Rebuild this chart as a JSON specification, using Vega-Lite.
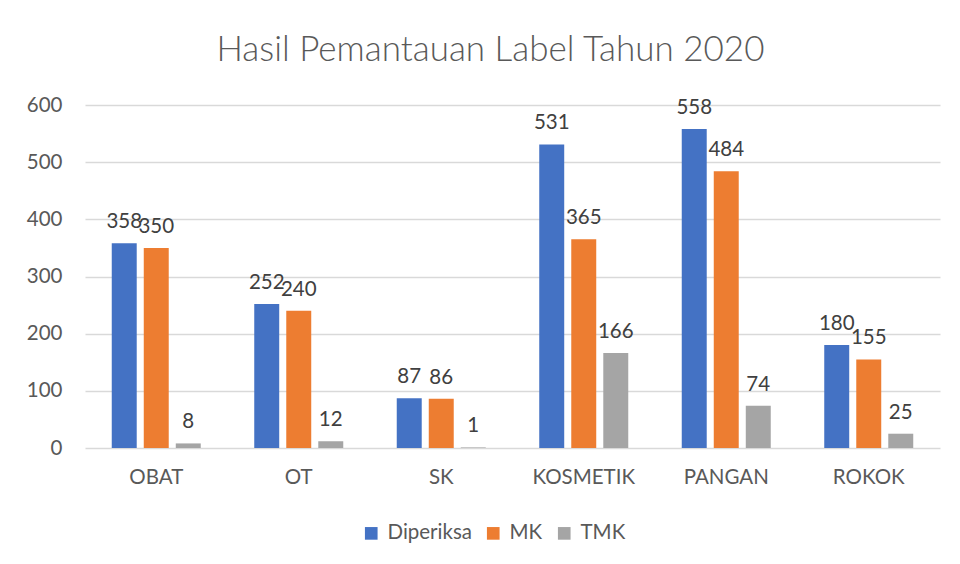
{
  "$schema": "https://vega.github.io/schema/vega-lite/v6.json",
  "width": 855,
  "height": 343,
  "autosize": {"type": "none"},
  "padding": {"left": 85, "top": 105, "right": 20, "bottom": 116},
  "background": "white",
  "title": {
    "text": "Hasil Pemantauan Label Tahun 2020",
    "font": "Lato",
    "fontWeight": 300,
    "fontSize": 35,
    "color": "#595959",
    "anchor": "middle",
    "dx": -22,
    "offset": 27
  },
  "data": {
    "values": [
      {"kategori": "OBAT", "seri": "Diperiksa", "nilai": 358},
      {"kategori": "OBAT", "seri": "MK", "nilai": 350},
      {"kategori": "OBAT", "seri": "TMK", "nilai": 8},
      {"kategori": "OT", "seri": "Diperiksa", "nilai": 252},
      {"kategori": "OT", "seri": "MK", "nilai": 240},
      {"kategori": "OT", "seri": "TMK", "nilai": 12},
      {"kategori": "SK", "seri": "Diperiksa", "nilai": 87},
      {"kategori": "SK", "seri": "MK", "nilai": 86},
      {"kategori": "SK", "seri": "TMK", "nilai": 1},
      {"kategori": "KOSMETIK", "seri": "Diperiksa", "nilai": 531},
      {"kategori": "KOSMETIK", "seri": "MK", "nilai": 365},
      {"kategori": "KOSMETIK", "seri": "TMK", "nilai": 166},
      {"kategori": "PANGAN", "seri": "Diperiksa", "nilai": 558},
      {"kategori": "PANGAN", "seri": "MK", "nilai": 484},
      {"kategori": "PANGAN", "seri": "TMK", "nilai": 74},
      {"kategori": "ROKOK", "seri": "Diperiksa", "nilai": 180},
      {"kategori": "ROKOK", "seri": "MK", "nilai": 155},
      {"kategori": "ROKOK", "seri": "TMK", "nilai": 25}
    ]
  },
  "encoding": {
    "x": {
      "field": "kategori",
      "type": "nominal",
      "sort": null,
      "scale": {"paddingInner": 0.326, "paddingOuter": 0.163},
      "axis": {
        "title": null,
        "labelAngle": 0,
        "domain": false,
        "ticks": false,
        "labelFont": "Lato",
        "labelFontSize": 20.5,
        "labelColor": "#595959",
        "labelPadding": 19
      }
    },
    "xOffset": {
      "field": "seri",
      "type": "nominal",
      "sort": ["Diperiksa", "MK", "TMK"],
      "scale": {"paddingInner": 0.22, "paddingOuter": 0.11}
    },
    "y": {
      "field": "nilai",
      "type": "quantitative",
      "scale": {"domain": [0, 600]},
      "axis": {
        "title": null,
        "values": [0, 100, 200, 300, 400, 500, 600],
        "domain": false,
        "ticks": false,
        "grid": true,
        "gridColor": "#d9d9d9",
        "gridWidth": 1.3,
        "labelFont": "Lato",
        "labelFontSize": 20.5,
        "labelColor": "#595959",
        "labelPadding": 23
      }
    }
  },
  "layer": [
    {
      "mark": {"type": "bar"},
      "encoding": {
        "color": {
          "field": "seri",
          "type": "nominal",
          "sort": ["Diperiksa", "MK", "TMK"],
          "scale": {"domain": ["Diperiksa", "MK", "TMK"], "range": ["#4472C4", "#ED7D31", "#A5A5A5"]},
          "legend": {
            "title": null,
            "orient": "none",
            "direction": "horizontal",
            "legendX": 276,
            "legendY": 418,
            "symbolType": "square",
            "symbolSize": 160,
            "symbolStrokeWidth": 0,
            "labelFont": "Lato",
            "labelFontSize": 20.5,
            "labelColor": "#595959",
            "columnPadding": 11,
            "labelOffset": 6
          }
        }
      }
    },
    {
      "mark": {"type": "text", "baseline": "bottom", "dy": -11, "font": "Lato", "fontSize": 20.5, "color": "#404040"},
      "encoding": {
        "text": {"field": "nilai", "type": "quantitative"}
      }
    }
  ],
  "config": {
    "view": {"stroke": null}
  }
}
